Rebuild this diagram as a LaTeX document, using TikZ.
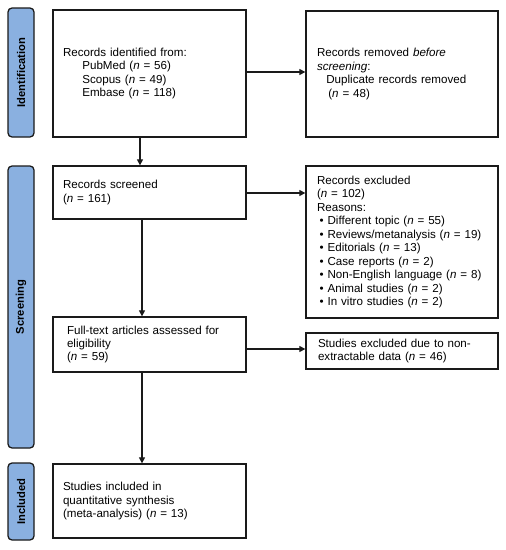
\documentclass[tikz,border=0pt]{standalone}
\usepackage{fontspec}
\setmainfont{Liberation Sans}
\usetikzlibrary{arrows.meta}
\definecolor{barblue}{HTML}{8AB0E0}
\definecolor{ink}{HTML}{1A1A1A}
\begin{document}
\begin{tikzpicture}[x=0.75pt,y=-0.75pt,
  box/.style={draw=ink,line width=0.95pt,align=left,anchor=center,inner xsep=0pt,inner ysep=0pt,
    font=\fontsize{8.7}{10.1}\selectfont},
  bar/.style={draw=ink,line width=0.95pt,fill=barblue,rounded corners=3pt,minimum width=26*0.75pt,
    font=\fontsize{8.4}{10}\selectfont\bfseries,inner sep=0pt},
  arr/.style={draw=ink,line width=0.8pt,-{Triangle[length=4.5pt,width=4.5pt]}}]
\useasboundingbox (0,0) rectangle (506,550);
% phase bars
\node[bar,minimum height=129*0.75pt] (b1) at (21,72.5) {\rotatebox{90}{Identification}};
\node[bar,minimum height=282*0.75pt] (b2) at (21,307) {\rotatebox{90}{Screening}};
\node[bar,minimum height=77*0.75pt] (b3) at (21,501.5) {\rotatebox{90}{Included}};
% left column
\node[box,minimum width=193*0.75pt,minimum height=127*0.75pt,text width=173*0.75pt] (n1) at (149.5,73.5)
 {Records identified from:\\\hspace{14.5pt}PubMed (\textit{n} = 56)\\\hspace{14.5pt}Scopus (\textit{n} = 49)\\\hspace{14.5pt}Embase (\textit{n} = 118)};
\node[box,minimum width=193*0.75pt,minimum height=53*0.75pt,text width=173*0.75pt] (n2) at (149.5,192.5)
 {Records screened\\(\textit{n} = 161)};
\node[box,minimum width=193*0.75pt,minimum height=55*0.75pt,text width=165*0.75pt] (n3) at (149.5,344.5)
 {Full-text articles assessed for\\eligibility\\(\textit{n} = 59)};
\node[box,minimum width=193*0.75pt,minimum height=74*0.75pt,text width=173*0.75pt] (n4) at (149.5,501)
 {Studies included in\\quantitative synthesis\\(meta-analysis) (\textit{n} = 13)};
% right column
\node[box,minimum width=192*0.75pt,minimum height=126*0.75pt,text width=170*0.75pt] (r1) at (402,74)
 {Records removed \textit{before}\\\textit{screening}:\\\hspace{7pt}Duplicate records removed\\\hspace{8.5pt}(\textit{n} = 48)};
\node[box,minimum width=192*0.75pt,minimum height=152*0.75pt,text width=170*0.75pt] (r2) at (402,242)
 {Records excluded\\(\textit{n} = 102)\\Reasons:\\
 \hspace{2pt}\textbullet\ Different topic (\textit{n} = 55)\\
 \hspace{2pt}\textbullet\ Reviews/metanalysis (\textit{n} = 19)\\
 \hspace{2pt}\textbullet\ Editorials (\textit{n} = 13)\\
 \hspace{2pt}\textbullet\ Case reports (\textit{n} = 2)\\
 \hspace{2pt}\textbullet\ Non-English language (\textit{n} = 8)\\
 \hspace{2pt}\textbullet\ Animal studies (\textit{n} = 2)\\
 \hspace{2pt}\textbullet\ In vitro studies (\textit{n} = 2)};
\node[box,minimum width=192*0.75pt,minimum height=36*0.75pt,text width=168*0.75pt] (r3) at (402,351)
 {Studies excluded due to non-\\extractable data (\textit{n} = 46)};
% connectors
\draw[arr] (n1.south -| 140,0) -- (n2.north -| 140,0);
\draw[arr] (n2.south -| 142,0) -- (n3.north -| 142,0);
\draw[arr] (n3.south -| 142,0) -- (n4.north -| 142,0);
\draw[arr] (n1.east |- 0,72) -- (r1.west |- 0,72);
\draw[arr] (n2.east |- 0,193) -- (r2.west |- 0,193);
\draw[arr] (n3.east |- 0,349) -- (r3.west |- 0,349);
\end{tikzpicture}
\end{document}
